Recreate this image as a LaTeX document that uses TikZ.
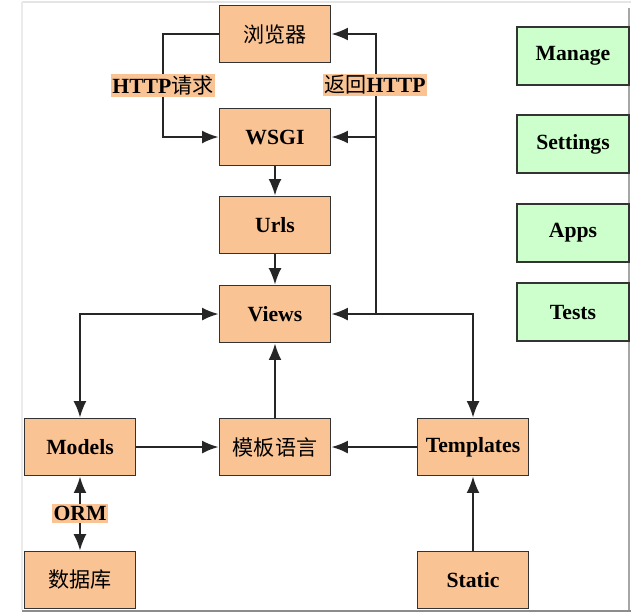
\documentclass[tikz,border=0pt]{standalone}
\usepackage{fontspec}
\setmainfont{Liberation Serif}
\newfontfamily\cjk{Noto Sans CJK SC}
\usetikzlibrary{arrows.meta}
\usetikzlibrary{positioning}
\definecolor{boxorange}{HTML}{FAC394}
\definecolor{boxgreen}{HTML}{CCFFCC}
\definecolor{boxline}{HTML}{333333}
\newcommand{\zh}[1]{{\cjk\mdseries\fontsize{18pt}{20pt}\selectfont #1}}
\tikzset{
    font={\fontsize{18.5pt}{20pt}\selectfont\bfseries},
    part/.style={
           rectangle,
           draw=boxline, line width=1.6pt,
           fill=boxorange,
           minimum width=3.33cm,
           minimum height=1.71cm,
           inner sep=2pt,
           text centered,
           },
    module/.style={part, fill=boxgreen, minimum width=3.36cm, minimum height=1.74cm},
    tag/.style={fill=boxorange, inner sep=1.5pt},
    link/.style={line width=1.6pt, draw=black!85},
}

\begin{document}
\begin{tikzpicture}[x=0.03cm,y=0.03cm,>={Latex[length=14pt,width=11pt]}]

\useasboundingbox (0,0) rectangle (631,-614);
% screenshot frame
\draw[black!10, line width=1pt] (22,-2) -- (631,-2);
\draw[black!8, line width=1pt] (22,-2) -- (22,-610);
\draw[black!35, line width=1.2pt] (629,-8) -- (629,-610);
\draw[black!45, line width=2.5pt] (22,-611) -- (631,-611);

% request chain
\node[part] (BROWSER) at (275,-34) {\zh{浏览器}};
\node[part, below of=BROWSER, node distance=3.09cm] (WSGI) {WSGI};
\node[part, below of=WSGI, node distance=2.64cm] (URLS) {Urls};
\node[part, below of=URLS, node distance=2.67cm] (VIEWS) {Views};

% lower row
\node[part, below of=VIEWS, node distance=3.99cm] (TPLLANG) {\zh{模板语言}};
\node[part, left of=TPLLANG, node distance=5.85cm] (MODELS) {Models};
\node[part, right of=TPLLANG, node distance=5.94cm] (TEMPLATES) {Templates};
\node[part, below of=MODELS, node distance=3.99cm] (DATABASE) {\zh{数据库}};
\node[part, below of=TEMPLATES, node distance=3.99cm] (STATIC) {Static};

% project files
\node[module] (MANAGE) at (573,-56) {Manage};
\node[module, below of=MANAGE, node distance=2.64cm] (SETTINGS) {Settings};
\node[module, below of=SETTINGS, node distance=2.67cm] (APPS) {Apps};
\node[module, below of=APPS, node distance=2.37cm] (TESTS) {Tests};

% corners of the routed lines
\coordinate (REQLEFT) at (163,-34);
\coordinate (RETTOP) at (376,-34);
\coordinate (RETMID) at (376,-137);
\coordinate (RETFOOT) at (376,-314);
\coordinate (VLEFT) at (80,-314);
\coordinate (VRIGHT) at (473,-314);

\draw[link,->] (BROWSER.west) -- (REQLEFT) |- (WSGI.west)
    node[tag, pos=0.25] {HTTP\zh{请求}};
\draw[link,->] (RETFOOT) -- (RETTOP) -- (BROWSER.east);
\draw[link,->] (RETMID) -- (WSGI.east);
\node[tag] (RETLABEL) at (375,-85) {\zh{返回}HTTP};

\draw[link,->] (WSGI) -- (URLS);
\draw[link,->] (URLS) -- (VIEWS);
\draw[link,<->] (VIEWS.west) -- (VLEFT) -- (MODELS.north);
\draw[link,<->] (VIEWS.east) -- (VRIGHT) -- (TEMPLATES.north);
\draw[link,->] (TPLLANG) -- (VIEWS);
\draw[link,->] (MODELS) -- (TPLLANG);
\draw[link,->] (TEMPLATES) -- (TPLLANG);
\draw[link,<->] (MODELS) -- (DATABASE)
    node[tag, midway] (ORM) {ORM};
\draw[link,->] (STATIC) -- (TEMPLATES);

\end{tikzpicture}
\end{document}
